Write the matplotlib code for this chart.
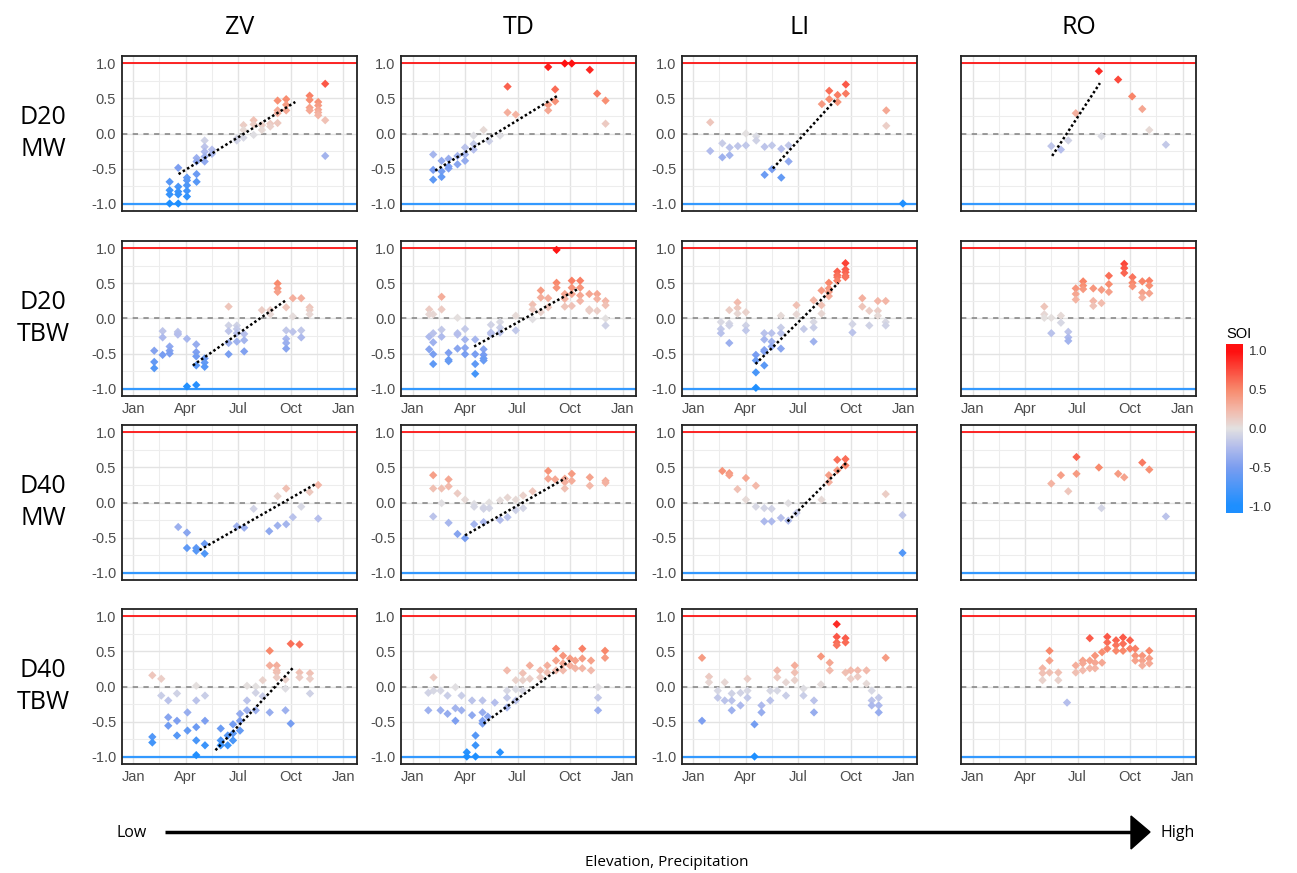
import numpy as np
import matplotlib
matplotlib.use("Agg")
import matplotlib.pyplot as plt
from matplotlib.colors import LinearSegmentedColormap, Normalize
from matplotlib.patches import Polygon

# ---- data: (month since Jan 1, [SOI values at that date]) -------------------
ZV_D20_MW = [(2.08, [-0.69, -0.81, -0.87, -1.0]), (2.57, [-0.49, -0.76, -0.83, -0.87, -1.0]),
             (3.07, [-0.63, -0.67, -0.74, -0.82, -0.90]), (3.62, [-0.35, -0.40, -0.58, -0.69]),
             (4.08, [-0.10, -0.19, -0.26, -0.33, -0.40]), (4.50, [-0.23, -0.29]),
             (5.92, [-0.07, -0.10]), (6.30, [0.12, 0.05, -0.06]), (6.88, [0.19, 0.13, -0.02]),
             (7.35, [0.12, 0.05]), (7.83, [0.14, 0.10]), (8.25, [0.47, 0.33, 0.29, 0.15]),
             (8.74, [0.49, 0.41, 0.33]), (10.08, [0.54, 0.48, 0.37, 0.33]),
             (10.57, [0.45, 0.40, 0.34, 0.30, 0.26]), (10.97, [0.71, 0.19, -0.32])]
TD_D20_MW = [(1.18, [-0.30, -0.52, -0.66]), (1.66, [-0.39, -0.54, -0.62]),
             (2.06, [-0.36, -0.47, -0.50]), (2.57, [-0.32, -0.44]), (3.00, [-0.20, -0.30, -0.39]),
             (3.49, [-0.03, -0.15, -0.23]), (4.06, [0.05]), (4.38, [-0.11]), (5.00, [-0.03]),
             (5.43, [0.67, 0.30]), (5.90, [0.27]), (7.75, [0.95, 0.41, 0.33]), (8.15, [0.63, 0.46]),
             (8.70, [1.0]), (9.10, [1.0]), (10.13, [0.91]), (10.55, [0.57]), (11.03, [0.47, 0.14])]
LI_D20_MW = [(0.97, [0.16, -0.25]), (1.66, [-0.14, -0.34]), (2.08, [-0.20, -0.31]),
             (2.55, [-0.18]), (3.01, [-0.17, 0.0]), (3.60, [-0.04, -0.10]), (4.08, [-0.19, -0.59]),
             (4.50, [-0.17, -0.51]), (5.03, [-0.22, -0.63]), (5.45, [-0.17, -0.40]), (7.35, [0.42]),
             (7.77, [0.61, 0.49]), (8.25, [0.55, 0.45]), (8.72, [0.70, 0.57]),
             (11.03, [0.33, 0.11]), (11.98, [-1.0])]
RO_D20_MW = [(4.50, [-0.18]), (5.05, [-0.23]), (5.47, [-0.10]), (5.90, [0.29]), (7.22, [0.89]),
             (7.37, [-0.04]), (8.32, [0.77]), (9.12, [0.53]), (9.70, [0.35]), (10.10, [0.05]),
             (11.05, [-0.16])]

ZV_D20_TBW = [(1.20, [-0.46, -0.62, -0.71]), (1.68, [-0.18, -0.27, -0.52]),
              (2.08, [-0.40, -0.46, -0.50]), (2.55, [-0.19, -0.21, -0.23]), (3.07, [-0.29, -0.97]),
              (3.60, [-0.37, -0.48, -0.54, -0.67, -0.95]), (4.08, [-0.57, -0.63, -0.69]),
              (5.45, [0.17, -0.10, -0.18, -0.35, -0.51]), (5.92, [-0.10, -0.15, -0.21, -0.33]),
              (6.34, [-0.22, -0.31, -0.47]), (7.35, [0.12]), (7.83, [0.12, 0.06]),
              (8.25, [0.50, 0.43, 0.38]), (8.74, [0.16, -0.17, -0.29, -0.35, -0.43]),
              (9.12, [0.29, 0.03, -0.19]), (9.60, [0.29, -0.17, -0.27]), (10.08, [0.16, 0.12, 0.06])]
TD_D20_TBW = [(0.95, [0.13, 0.06, -0.26, -0.44]), (1.18, [0.06, -0.21, -0.34, -0.51, -0.65]),
              (1.66, [0.31, 0.13, -0.16, -0.26]), (2.06, [-0.49, -0.59, -0.61]),
              (2.57, [0.01, -0.21, -0.23, -0.43]), (3.00, [-0.15, -0.30, -0.42, -0.51]),
              (3.58, [-0.30, -0.51, -0.65, -0.79]), (4.06, [-0.44, -0.52, -0.57, -0.60]),
              (4.48, [-0.09, -0.20, -0.22]), (5.00, [-0.05, -0.13, -0.20]), (5.90, [0.04, -0.17]),
              (6.86, [0.20, 0.13, -0.01]), (7.33, [0.40, 0.30, 0.09]), (7.75, [0.29, 0.16]),
              (8.23, [0.98, 0.51, 0.44]), (8.70, [0.35, 0.28, 0.17]),
              (9.10, [0.54, 0.44, 0.35, 0.18]), (9.58, [0.54, 0.44, 0.33, 0.25]),
              (10.10, [0.35, 0.13, 0.11]), (10.55, [0.35, 0.28, 0.11]),
              (11.03, [0.25, 0.19, 0.0, -0.10])]
LI_D20_TBW = [(1.58, [-0.05, -0.15, -0.21]), (2.06, [0.12, -0.07, -0.10, -0.35]),
              (2.53, [0.23, 0.15, 0.07]), (3.01, [0.09, -0.10, -0.17]),
              (3.58, [-0.52, -0.60, -0.77, -0.99]), (4.06, [-0.21, -0.30, -0.45, -0.47, -0.67]),
              (4.48, [-0.21, -0.33, -0.40]), (5.01, [0.04, -0.13, -0.21, -0.43]),
              (5.90, [0.19, 0.06]), (6.32, [-0.15]), (6.88, [0.26, -0.05, -0.13, -0.33]),
              (7.33, [0.40, 0.19, 0.07]), (7.75, [0.51, 0.43, 0.38, 0.32]),
              (8.23, [0.67, 0.62, 0.59, 0.54]), (8.70, [0.79, 0.70, 0.66, 0.61, 0.59]),
              (9.10, [-0.08, -0.20]), (9.66, [0.29, 0.17]), (10.06, [0.11, -0.10]),
              (10.55, [0.25, 0.11, 0.04]), (11.00, [0.25, -0.05, -0.10])]
RO_D20_TBW = [(4.10, [0.17, 0.06, 0.01]), (4.50, [0.01, -0.21]), (5.05, [0.04, -0.06]),
              (5.47, [-0.19, -0.27, -0.32]), (5.90, [0.43, 0.35, 0.27]), (6.32, [0.53, 0.47, 0.42]),
              (6.90, [0.43, 0.25, 0.18]), (7.37, [0.41, 0.22]), (7.79, [0.61, 0.49, 0.38]),
              (8.67, [0.78, 0.72, 0.65]), (9.14, [0.59, 0.51, 0.46]), (9.70, [0.53, 0.37, 0.30]),
              (10.10, [0.54, 0.47, 0.36])]

ZV_D40_MW = [(2.57, [-0.35]), (3.07, [-0.43, -0.65]), (3.60, [-0.65, -0.69]),
             (4.08, [-0.59, -0.73]), (5.92, [-0.34]), (6.34, [-0.36]), (6.88, [-0.09]),
             (7.77, [-0.41]), (8.25, [0.09, -0.33]), (8.74, [0.20, -0.31]), (9.12, [-0.21]),
             (9.60, [-0.06]), (10.08, [0.15]), (10.57, [0.25, -0.23])]
TD_D40_MW = [(1.18, [0.39, 0.20, -0.20]), (1.66, [0.20, -0.01]), (2.06, [0.33, 0.23, -0.29]),
             (2.57, [0.13, -0.45]), (3.00, [0.04, -0.51]), (3.52, [-0.02, -0.06, -0.31]),
             (4.06, [-0.07, -0.09, -0.28]), (4.38, [0.0, -0.08]), (5.00, [0.03, -0.25]),
             (5.43, [0.07, -0.21]), (5.90, [0.04, -0.11]), (6.32, [0.10, -0.08]), (6.86, [0.16]),
             (7.75, [0.45, 0.34]), (8.15, [0.33]), (8.70, [0.34, 0.29, 0.20]), (9.10, [0.41, 0.31]),
             (10.13, [0.36, 0.24]), (11.03, [0.31, 0.28])]
LI_D40_MW = [(1.66, [0.45]), (2.06, [0.42, 0.39]), (2.53, [0.19]), (3.01, [0.35, 0.04]),
             (3.58, [0.24, -0.06]), (4.06, [-0.08, -0.27]), (4.48, [-0.09, -0.27]), (5.01, [-0.22]),
             (5.43, [-0.01, -0.26]), (5.90, [-0.15]), (7.33, [0.04]), (7.75, [0.39, 0.29]),
             (8.23, [0.61, 0.46]), (8.70, [0.62, 0.53]), (11.00, [0.12]), (11.96, [-0.18, -0.72])]
RO_D40_MW = [(4.50, [0.27]), (5.05, [0.39]), (5.47, [0.16]), (5.94, [0.65, 0.41]), (7.22, [0.50]),
             (7.37, [-0.08]), (8.32, [0.41]), (8.67, [0.36]), (9.70, [0.57]), (10.10, [0.47]),
             (11.05, [-0.20])]

ZV_D40_TBW = [(1.09, [0.16, -0.72, -0.80]), (1.60, [0.11, -0.13]), (2.00, [-0.20, -0.44, -0.56]),
              (2.50, [-0.10, -0.49, -0.70]), (3.10, [-0.37, -0.63]),
              (3.60, [0.01, -0.20, -0.58, -0.77, -0.98]), (4.10, [-0.13, -0.49, -0.84]),
              (5.00, [-0.60, -0.77, -0.84]), (5.40, [-0.70, -0.84]), (5.70, [-0.54, -0.67, -0.77]),
              (6.10, [-0.39, -0.49, -0.63]), (6.50, [0.01, -0.20, -0.34]), (7.00, [0.0, -0.09, -0.34]),
              (7.40, [0.09, -0.14]), (7.80, [0.51, 0.30, -0.37]), (8.20, [0.30, 0.23, 0.20, 0.13]),
              (8.70, [0.10, -0.03, -0.34]), (9.00, [0.61, -0.53]), (9.50, [0.60, 0.20, 0.13]),
              (10.10, [0.19, 0.11, -0.10])]
TD_D40_TBW = [(0.90, [-0.09, -0.34]), (1.20, [0.13, -0.06]), (1.60, [-0.06, -0.34]),
              (2.00, [-0.13, -0.39]), (2.45, [-0.01, -0.31, -0.49]), (2.80, [-0.13, -0.34]),
              (3.10, [-0.94, -1.0]), (3.40, [-0.20, -0.41]), (3.60, [-0.70, -0.84, -1.0]),
              (4.00, [-0.20, -0.37, -0.49, -0.53]), (4.30, [-0.43]), (4.70, [-0.23]), (5.00, [-0.94]),
              (5.40, [0.23, -0.06, -0.16, -0.30]), (5.90, [0.09, -0.04, -0.20]),
              (6.30, [0.19, 0.09, -0.06]), (6.70, [0.30, 0.11]), (7.30, [0.23, 0.13]),
              (7.70, [0.30, 0.20]), (8.20, [0.54, 0.37, 0.23]), (8.60, [0.44, 0.33, 0.23]),
              (9.00, [0.40, 0.30]), (9.30, [0.37, 0.26]), (9.70, [0.54, 0.40, 0.26]),
              (10.20, [0.37, 0.23]), (10.60, [-0.01, -0.16, -0.34]), (11.00, [0.51, 0.41])]
LI_D40_TBW = [(0.50, [0.41, -0.49]), (0.90, [0.14, 0.06]), (1.40, [-0.06, -0.16]),
              (1.80, [0.06, -0.20]), (2.20, [-0.10, -0.20, -0.34]), (2.70, [-0.09, -0.27]),
              (3.10, [0.11, -0.06, -0.16]), (3.50, [-0.54, -1.0]), (3.90, [-0.27, -0.37]),
              (4.40, [-0.06, -0.20]), (4.80, [0.23, 0.13, -0.06]), (5.30, [0.06, -0.13]),
              (5.80, [0.30, 0.20, 0.09]), (6.30, [-0.03, -0.13]), (6.90, [-0.20, -0.37]),
              (7.30, [0.43, 0.03]), (7.80, [0.34, 0.23]), (8.20, [0.89, 0.71, 0.63, 0.59]),
              (8.70, [0.69, 0.63, 0.20]), (9.00, [0.23, 0.11]), (9.40, [0.23, 0.14]),
              (9.90, [0.23, 0.04]), (10.20, [-0.06, -0.20, -0.27]), (10.60, [-0.16, -0.27, -0.37]),
              (11.00, [0.41])]
RO_D40_TBW = [(4.00, [0.26, 0.19, 0.09]), (4.40, [0.51, 0.37, 0.20]), (4.90, [0.20, 0.09]),
              (5.40, [-0.23]), (5.90, [0.30, 0.20]), (6.30, [0.37, 0.33, 0.23]),
              (6.70, [0.69, 0.37, 0.26]), (7.00, [0.44, 0.34, 0.26]), (7.40, [0.49, 0.34]),
              (7.70, [0.71, 0.63, 0.54]), (8.20, [0.66, 0.59, 0.51]), (8.60, [0.70, 0.61, 0.51]),
              (9.00, [0.66, 0.54]), (9.30, [0.54, 0.44, 0.37]), (9.70, [0.44, 0.37, 0.30]),
              (10.10, [0.51, 0.40, 0.33])]

# trend lines: (x0, y0, x1, y1)
TRENDS = {
    (0, 0): (2.59, -0.58, 9.26, 0.45), (0, 1): (1.30, -0.53, 8.29, 0.54),
    (0, 2): (4.55, -0.50, 8.20, 0.50), (0, 3): (4.55, -0.32, 7.28, 0.72),
    (1, 0): (3.41, -0.67, 8.72, 0.26), (1, 1): (3.52, -0.40, 9.43, 0.42),
    (1, 2): (3.56, -0.65, 8.30, 0.51),
    (2, 0): (3.79, -0.68, 10.46, 0.27), (2, 1): (3.00, -0.47, 8.76, 0.35),
    (2, 2): (5.39, -0.27, 8.80, 0.58),
    (3, 0): (4.70, -0.91, 9.14, 0.27), (3, 1): (4.06, -0.53, 9.00, 0.37),
}

SITES = ["ZV", "TD", "LI", "RO"]
ROW_LABELS = ["D20\nMW", "D20\nTBW", "D40\nMW", "D40\nTBW"]
PANELS = [
    [ZV_D20_MW, TD_D20_MW, LI_D20_MW, RO_D20_MW],
    [ZV_D20_TBW, TD_D20_TBW, LI_D20_TBW, RO_D20_TBW],
    [ZV_D40_MW, TD_D40_MW, LI_D40_MW, RO_D40_MW],
    [ZV_D40_TBW, TD_D40_TBW, LI_D40_TBW, RO_D40_TBW],
]
MONTH_TICKS = [0, 3, 6, 9, 12]
MONTH_LABELS = ["Jan", "Apr", "Jul", "Oct", "Jan"]

W, H = 1297, 873
COL_LEFT = [121.7, 401.0, 681.7, 961.0]
ROW_TOP = [56.0, 241.0, 425.0, 609.0]
PW, PH = 235.0, 155.0

cmap = LinearSegmentedColormap.from_list(
    "soi",
    [(0.0, "#1E8FFF"), (0.25, "#7C9EF0"), (0.38, "#B3BDEC"), (0.5, "#E3E1E1"),
     (0.62, "#F3B9AA"), (0.75, "#F88B6E"), (1.0, "#FF1010")],
)
norm = Normalize(-1, 1)


def _expand(groups):
    xs, ys = [], []
    for m, vals in groups:
        for v in vals:
            xs.append(m)
            ys.append(v)
    return np.array(xs), np.array(ys)


def _px_axes(fig, left, top, width, height):
    return fig.add_axes([left / W, 1 - (top + height) / H, width / W, height / H])


fig = plt.figure(figsize=(W / 100, H / 100), dpi=100)
title_font = "Open Sans"
tick_font = "Liberation Sans"

for r in range(4):
    for c in range(4):
        ax = _px_axes(fig, COL_LEFT[c], ROW_TOP[r], PW, PH)
        ax.set_xlim(-0.66, 12.77)
        ax.set_ylim(-1.107, 1.107)
        ax.set_xticks(MONTH_TICKS)
        ax.set_xticks([1.5, 4.5, 7.5, 10.5], minor=True)
        ax.set_yticks([-1.0, -0.5, 0.0, 0.5, 1.0])
        ax.set_yticks([-0.75, -0.25, 0.25, 0.75], minor=True)
        ax.grid(True, which="major", color="#E3E3E3", lw=1.0, zorder=0)
        ax.grid(True, which="minor", color="#EDEDED", lw=0.8, zorder=0)
        ax.set_axisbelow(True)
        ax.tick_params(which="both", length=0, labelsize=10.5, labelcolor="#4D4D4D", pad=4)
        if r in (1, 3):
            ax.set_xticklabels(MONTH_LABELS, family=tick_font)
        else:
            ax.set_xticklabels([])
        if c < 3:
            ax.set_yticklabels(["-1.0", "-0.5", "0.0", "0.5", "1.0"], family=tick_font)
        else:
            ax.set_yticklabels([])
        for s in ax.spines.values():
            s.set_color("#222222")
            s.set_linewidth(1.3)

        ax.axhline(1.0, color="#FF0000", lw=1.2, zorder=1)
        ax.axhline(-1.0, color="#3399FF", lw=1.6, zorder=1)
        ax.axhline(0.0, color="#808080", lw=1.1, ls=(0, (3.5, 3.5)), zorder=1)

        xs, ys = _expand(PANELS[r][c])
        ax.scatter(xs, ys, c=ys, cmap=cmap, norm=norm, marker="D", s=18,
                   linewidths=0, zorder=3)

        if (r, c) in TRENDS:
            x0, y0, x1, y1 = TRENDS[(r, c)]
            ax.plot([x0, x1], [y0, y1], color="black", lw=1.8, ls=(0, (1, 1)), zorder=4)

        if r == 0:
            fig.text((COL_LEFT[c] + PW / 2) / W, 1 - 28 / H, SITES[c], ha="center",
                     va="center", fontsize=18, family=title_font)
    fig.text(43 / W, 1 - (ROW_TOP[r] + PH / 2) / H, ROW_LABELS[r], ha="center",
             va="center", fontsize=18, family=title_font, linespacing=1.35)

# colour bar
cax = _px_axes(fig, 1226, 344, 17, 169)
grad = np.linspace(1.09, -1.09, 256).reshape(-1, 1)
cax.imshow(grad, cmap=cmap, norm=norm, aspect="auto", extent=[0, 1, -1.09, 1.09])
cax.set_xticks([])
cax.yaxis.tick_right()
cax.set_yticks([-1.0, -0.5, 0.0, 0.5, 1.0])
cax.set_yticklabels(["-1.0", "-0.5", "0.0", "0.5", "1.0"], family=tick_font)
cax.tick_params(length=0, labelsize=9.5, labelcolor="#333333", pad=4)
for s in cax.spines.values():
    s.set_visible(False)
fig.text(1226 / W, 1 - 334 / H, "SOI", ha="left", va="center", fontsize=10.5,
         family=tick_font)

# gradient arrow at the bottom
over = fig.add_axes([0, 0, 1, 1], facecolor="none")
over.set_xlim(0, W)
over.set_ylim(H, 0)
over.axis("off")
over.plot([165, 1135], [832, 832], color="black", lw=2.5, solid_capstyle="butt")
over.add_patch(Polygon([[1131, 816], [1150, 832], [1131, 849]], closed=True, color="black"))
over.text(132, 833, "Low", ha="center", va="center", fontsize=11.5, family=title_font)
over.text(1178, 833, "High", ha="center", va="center", fontsize=11.5, family=title_font)
over.text(667, 862, "Elevation, Precipitation", ha="center", va="center", fontsize=11,
          family=title_font)

fig.savefig("out.png", dpi=100)
plt.close(fig)
